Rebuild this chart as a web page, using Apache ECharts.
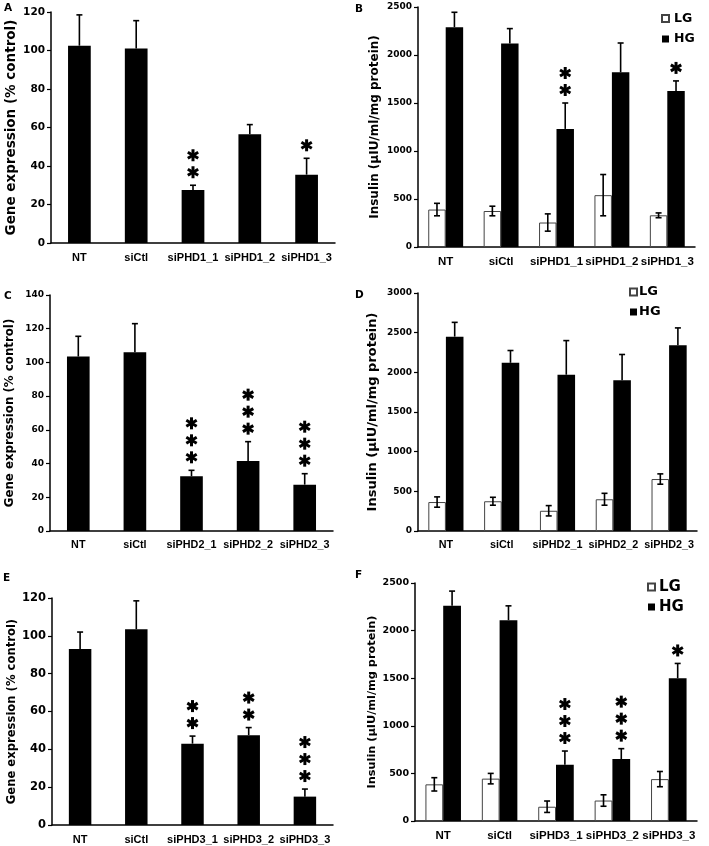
<!DOCTYPE html>
<html><head><meta charset="utf-8">
<script src="https://cdn.jsdelivr.net/npm/echarts@6/dist/echarts.min.js"></script>
<style>html,body{margin:0;padding:0;background:#fff}#c{width:709px;height:846px}</style>
</head><body><div id="c"></div>
<script>
// ---------- DATA ----------
const catsA = ['NT','siCtl','siPHD1_1','siPHD1_2','siPHD1_3'];
const geneA = [102.5, 101, 27.5, 56.5, 35.5];
const geneAErr = [16, 14.5, 2.5, 5, 8.5];
const starsA = [0, 0, 2, 0, 1];

const catsB = catsA;
const lgB = [390, 375, 255, 540, 330];
const lgBErr = [65, 50, 90, 215, 25];
const hgB = [2290, 2120, 1230, 1820, 1625];
const hgBErr = [155, 155, 270, 305, 105];
const starsB = [0, 0, 2, 0, 1];

const catsC = ['NT','siCtl','siPHD2_1','siPHD2_2','siPHD2_3'];
const geneC = [103.5, 106, 32.5, 41.5, 27.5];
const geneCErr = [12, 17, 3.5, 11.5, 6.5];
const starsC = [0, 0, 3, 3, 3];

const catsD = catsC;
const lgD = [365, 375, 255, 400, 655];
const lgDErr = [65, 50, 65, 75, 65];
const hgD = [2450, 2120, 1970, 1900, 2340];
const hgDErr = [180, 155, 430, 325, 220];
const starsD = [0, 0, 0, 0, 0];

const catsE = ['NT','siCtl','siPHD3_1','siPHD3_2','siPHD3_3'];
const geneE = [93, 103.5, 43, 47.5, 15];
const geneEErr = [9, 15, 4, 4, 4];
const starsE = [0, 0, 2, 2, 3];

const catsF = catsE;
const lgF = [385, 445, 150, 215, 440];
const lgFErr = [70, 55, 60, 60, 80];
const hgF = [2260, 2110, 590, 650, 1500];
const hgFErr = [155, 150, 145, 110, 155];
const starsF = [0, 0, 3, 3, 1];

const yTitleGene = 'Gene expression (% control)';
const yTitleIns = 'Insulin (\u03bcIU/ml/mg protein)';
const legendNames = ['LG', 'HG'];

// ---------- HELPERS ----------
const FONT = '"DejaVu Sans", "Liberation Sans", Arial, sans-serif';
const FONT_CAT = '"Liberation Sans", Arial, sans-serif';
const chart = echarts.init(document.getElementById('c'));

function errUp(vals, errs) { return vals.map((v, i) => [i, v, v + errs[i]]); }
function errBoth(vals, errs) { return vals.map((v, i) => [i, v - errs[i], v + errs[i]]); }
function starData(vals, errs, stars) { return vals.map((v, i) => [i, v + errs[i], stars[i]]); }

function errRender(offsetFrac, twoSided) {
  return function (params, api) {
    const i = api.value(0), lo = api.value(1), hi = api.value(2);
    const bw = api.size([1, 0])[0];
    const pHi = api.coord([i, hi]), pLo = api.coord([i, lo]);
    const x = pHi[0] + offsetFrac * bw;
    const st = { stroke: '#000', lineWidth: 1.6 };
    const cap = 3;
    const ch = [
      { type: 'line', shape: { x1: x, y1: pLo[1], x2: x, y2: pHi[1] }, style: st },
      { type: 'line', shape: { x1: x - cap, y1: pHi[1], x2: x + cap, y2: pHi[1] }, style: st }
    ];
    if (twoSided) ch.push({ type: 'line', shape: { x1: x - cap, y1: pLo[1], x2: x + cap, y2: pLo[1] }, style: st });
    return { type: 'group', children: ch };
  };
}
function starRender(offsetFrac) {
  return function (params, api) {
    const i = api.value(0), top = api.value(1), n = api.value(2);
    const bw = api.size([1, 0])[0];
    const p = api.coord([i, top]);
    const x = p[0] + offsetFrac * bw;
    const ch = [];
    const r = 6;
    for (let k = 0; k < n; k++) {
      const cy = p[1] - 13 - k * 17;
      [90, 30, 150].forEach(a => {
        const rad = a * Math.PI / 180;
        ch.push({ type: 'line', shape: { x1: x - r * Math.cos(rad), y1: cy - r * Math.sin(rad), x2: x + r * Math.cos(rad), y2: cy + r * Math.sin(rad) },
          style: { stroke: '#000', lineWidth: 3 } });
      });
    }
    return { type: 'group', children: ch };
  };
}

const panels = [
  { grid: { left: 51, top: 12, width: 284, height: 231 }, cats: catsA, max: 120, interval: 20, tick: 10.5, cat: 11, title: yTitleGene, tsize: 13.5, gap: 33, single: geneA, err: geneAErr, stars: starsA },
  { grid: { left: 418, top: 7, width: 277, height: 240 }, cats: catsB, max: 2500, interval: 500, tick: 9, cat: 11.5, title: yTitleIns, tsize: 12, gap: 37, lg: lgB, lgErr: lgBErr, hg: hgB, hgErr: hgBErr, stars: starsB },
  { grid: { left: 50, top: 295, width: 283, height: 236 }, cats: catsC, max: 140, interval: 20, tick: 9, cat: 10.8, title: yTitleGene, tsize: 11.8, gap: 34, single: geneC, err: geneCErr, stars: starsC },
  { grid: { left: 418, top: 293, width: 279, height: 238 }, cats: catsD, max: 3000, interval: 500, tick: 9, cat: 10.8, title: yTitleIns, tsize: 13, gap: 39, lg: lgD, lgErr: lgDErr, hg: hgD, hgErr: hgDErr, stars: starsD },
  { grid: { left: 52, top: 598, width: 281, height: 227 }, cats: catsE, max: 120, interval: 20, tick: 11.5, cat: 11, title: yTitleGene, tsize: 11.6, gap: 34, single: geneE, err: geneEErr, stars: starsE },
  { grid: { left: 415, top: 583, width: 282, height: 238 }, cats: catsF, max: 2500, interval: 500, tick: 9.5, cat: 11.5, title: yTitleIns, tsize: 11.3, gap: 37, lg: lgF, lgErr: lgFErr, hg: hgF, hgErr: hgFErr, stars: starsF }
];

const grids = [], xAxes = [], yAxes = [], series = [];
panels.forEach((p, k) => {
  grids.push(Object.assign({ containLabel: false }, p.grid));
  xAxes.push({ type: 'category', gridIndex: k, data: p.cats,
    axisLine: { lineStyle: { color: '#000', width: 1.5 } }, axisTick: { show: false },
    axisLabel: { interval: 0, hideOverlap: false, color: '#000', fontWeight: 'bold', fontFamily: FONT_CAT, fontSize: p.cat, margin: 9 } });
  yAxes.push({ type: 'value', gridIndex: k, min: 0, max: p.max, interval: p.interval,
    name: p.title, nameLocation: 'middle', nameGap: p.gap, nameRotate: 90,
    nameTextStyle: { color: '#000', fontWeight: 'bold', fontFamily: FONT, fontSize: p.tsize },
    axisLine: { show: true, lineStyle: { color: '#000', width: 1.5 } },
    axisTick: { show: true, length: 4, lineStyle: { color: '#000', width: 1.2 } },
    splitLine: { show: false },
    axisLabel: { color: '#000', fontWeight: 'bold', fontFamily: FONT, fontSize: p.tick, margin: 6, formatter: v => String(v) } });
  if (p.single) {
    series.push({ type: 'bar', xAxisIndex: k, yAxisIndex: k, data: p.single, barWidth: '40%',
      itemStyle: { color: '#000' }, silent: true, animation: false });
    series.push({ type: 'custom', xAxisIndex: k, yAxisIndex: k, data: errUp(p.single, p.err), renderItem: errRender(0, false), silent: true, animation: false, z: 5 });
    series.push({ type: 'custom', xAxisIndex: k, yAxisIndex: k, data: starData(p.single, p.err, p.stars), renderItem: starRender(0), silent: true, animation: false, z: 5 });
  } else {
    const frac = 0.315;
    series.push({ name: 'LG', type: 'bar', xAxisIndex: k, yAxisIndex: k, data: p.lg, barWidth: frac * 100 + '%', barGap: '0%',
      itemStyle: { color: '#fff', borderColor: '#444', borderWidth: 1 }, silent: true, animation: false });
    series.push({ name: 'HG', type: 'bar', xAxisIndex: k, yAxisIndex: k, data: p.hg, barWidth: frac * 100 + '%', barGap: '0%',
      itemStyle: { color: '#000' }, silent: true, animation: false });
    series.push({ type: 'custom', xAxisIndex: k, yAxisIndex: k, data: errBoth(p.lg, p.lgErr), renderItem: errRender(-frac / 2, true), silent: true, animation: false, z: 5 });
    series.push({ type: 'custom', xAxisIndex: k, yAxisIndex: k, data: errUp(p.hg, p.hgErr), renderItem: errRender(frac / 2, false), silent: true, animation: false, z: 5 });
    series.push({ type: 'custom', xAxisIndex: k, yAxisIndex: k, data: starData(p.hg, p.hgErr, p.stars), renderItem: starRender(frac / 2), silent: true, animation: false, z: 5 });
  }
});

function legendAt(left, top, gap, size, box, txtPad) {
  return { data: legendNames, left: left, top: top, orient: 'vertical', icon: 'rect', itemWidth: box, itemHeight: box,
    itemGap: gap, selectedMode: false, padding: 0,
    textStyle: { color: '#000', fontWeight: 'bold', fontFamily: FONT, fontSize: size, padding: [0, 0, 0, txtPad] } };
}

const letters = [['A', 4, 3], ['B', 355, 4], ['C', 4, 291], ['D', 355, 290], ['E', 3, 573], ['F', 355, 570]];

chart.setOption({
  animation: false,
  grid: grids, xAxis: xAxes, yAxis: yAxes, series: series,
  legend: [legendAt(661, 12, 7.5, 12.5, 7, 0), legendAt(629, 285.5, 7, 13, 7, -3), legendAt(647, 579.5, 5, 15, 7, -1)],
  graphic: letters.map(l => ({ type: 'text', left: l[1], top: l[2],
    style: { text: l[0], font: 'bold 10.5px ' + FONT, fill: '#000' } }))
});
</script></body></html>
